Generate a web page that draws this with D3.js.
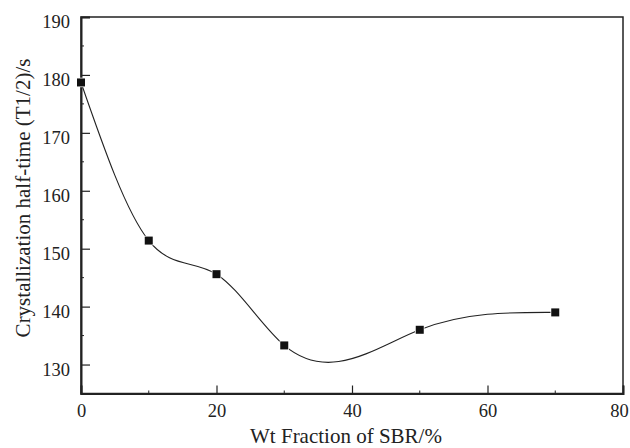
<!DOCTYPE html>
<html>
<head>
<meta charset="utf-8">
<script src="https://cdn.jsdelivr.net/npm/d3@7"></script>
<style>
  html, body { margin: 0; padding: 0; background: #fff; }
  svg { display: block; }
  text { font-family: "Liberation Serif", "Times New Roman", serif; fill: #222; }
</style>
</head>
<body>
<svg id="chart" width="630" height="448"></svg>
<script>
// SBR content (wt %) and crystallization half-time (s)
const sbrFraction = [0, 10, 20, 30, 50, 70];
const halfTime = [178.7, 151.4, 145.6, 133.3, 136.0, 139.0];
const xTicks = [0, 20, 40, 60, 80];
const yTicks = [130, 140, 150, 160, 170, 180, 190];
const xMinor = [10, 30, 50, 70];
const yMinor = [135, 145, 155, 165, 175, 185];

const svg = d3.select("#chart");
const plotL = 81, plotR = 623, plotT = 17, plotB = 393.5;

const x = d3.scaleLinear().domain([0, 80]).range([plotL, plotR]);
const y = d3.scaleLinear().domain([125, 190]).range([plotB, plotT]);

const ink = "#222";

// Curve factory: natural cubic spline of y as a function of x,
// emitted as exact cubic Bézier segments.
function curveSplineX(context) {
  let xs, ys;
  return {
    areaStart() {}, areaEnd() {},
    lineStart() { xs = []; ys = []; },
    point(px, py) { xs.push(+px); ys.push(+py); },
    lineEnd() {
      const n = xs.length;
      if (!n) return;
      context.moveTo(xs[0], ys[0]);
      if (n === 1) return;
      const h = [], d = [];
      for (let i = 0; i < n - 1; i++) {
        h[i] = xs[i + 1] - xs[i];
        d[i] = (ys[i + 1] - ys[i]) / h[i];
      }
      // second derivatives, natural ends (M0 = Mn-1 = 0)
      const M = new Array(n).fill(0);
      if (n > 2) {
        const a = [], b = [], c = [], r = [];
        for (let i = 1; i < n - 1; i++) {
          a.push(h[i - 1]); b.push(2 * (h[i - 1] + h[i])); c.push(h[i]);
          r.push(6 * (d[i] - d[i - 1]));
        }
        const m = b.length;
        for (let i = 1; i < m; i++) {
          const w = a[i] / b[i - 1];
          b[i] -= w * c[i - 1];
          r[i] -= w * r[i - 1];
        }
        const sol = new Array(m);
        sol[m - 1] = r[m - 1] / b[m - 1];
        for (let i = m - 2; i >= 0; i--) sol[i] = (r[i] - c[i] * sol[i + 1]) / b[i];
        for (let i = 0; i < m; i++) M[i + 1] = sol[i];
      }
      for (let i = 0; i < n - 1; i++) {
        const s0 = d[i] - h[i] * (2 * M[i] + M[i + 1]) / 6;
        const s1 = d[i] + h[i] * (M[i] + 2 * M[i + 1]) / 6;
        const t = h[i] / 3;
        context.bezierCurveTo(
          xs[i] + t, ys[i] + s0 * t,
          xs[i + 1] - t, ys[i + 1] - s1 * t,
          xs[i + 1], ys[i + 1]);
      }
    }
  };
}

// frame
svg.append("rect")
  .attr("x", plotL).attr("y", plotT)
  .attr("width", plotR - plotL).attr("height", plotB - plotT)
  .attr("fill", "none").attr("stroke", ink).attr("stroke-width", 1.5);

// bottom axis: ticks point inward
const gx = svg.append("g").attr("transform", `translate(0,${plotB})`);
gx.call(d3.axisBottom(x).tickValues(xTicks).tickSize(-8).tickPadding(10).tickFormat(d3.format("d")));
gx.attr("font-family", null);
gx.select(".domain").attr("stroke", ink).attr("stroke-width", 2);
gx.selectAll(".tick line").attr("stroke", ink).attr("stroke-width", 1.2);
gx.selectAll(".tick text").attr("font-size", 18.5).attr("fill", ink)
  .attr("dx", d => d === 80 ? -4 : 0);
gx.selectAll(".minor").data(xMinor).enter().append("line")
  .attr("x1", d => x(d)).attr("x2", d => x(d))
  .attr("y1", 0).attr("y2", -3)
  .attr("stroke", ink).attr("stroke-width", 1);

// left axis: ticks point inward
const gy = svg.append("g").attr("transform", `translate(${plotL},0)`);
gy.call(d3.axisLeft(y).tickValues(yTicks).tickSize(-9).tickPadding(11).tickFormat(d3.format("d")));
gy.attr("font-family", null);
gy.select(".domain").attr("stroke", ink).attr("stroke-width", 2);
gy.selectAll(".tick line").attr("stroke", ink).attr("stroke-width", 1.2);
gy.selectAll(".tick text").attr("font-size", 18.5).attr("dy", "0.58em").attr("fill", ink);
gy.selectAll(".minor").data(yMinor).enter().append("line")
  .attr("x1", 0).attr("x2", 3)
  .attr("y1", d => y(d)).attr("y2", d => y(d))
  .attr("stroke", ink).attr("stroke-width", 1);

// axis titles
svg.append("text")
  .attr("x", 346).attr("y", 443)
  .attr("text-anchor", "middle").attr("font-size", 21)
  .text("Wt Fraction of SBR/%");
svg.append("text")
  .attr("transform", "translate(30,198) rotate(-90)")
  .attr("text-anchor", "middle").attr("font-size", 21)
  .text("Crystallization half-time (T1/2)/s");

// smooth curve through the measured points
const pts = sbrFraction.map((d, i) => [d, halfTime[i]]);
const line = d3.line().x(d => x(d[0])).y(d => y(d[1])).curve(curveSplineX);
svg.append("path")
  .attr("d", line(pts))
  .attr("fill", "none").attr("stroke", ink).attr("stroke-width", 1.1);

// square markers with a white halo
const s = 8;
svg.selectAll(".pt").data(pts).enter().append("rect")
  .attr("x", d => x(d[0]) - s / 2).attr("y", d => y(d[1]) - s / 2)
  .attr("width", s).attr("height", s)
  .attr("fill", "#111").attr("stroke", "#fff").attr("stroke-width", 1.5)
  .attr("paint-order", "stroke");
</script>
</body>
</html>
